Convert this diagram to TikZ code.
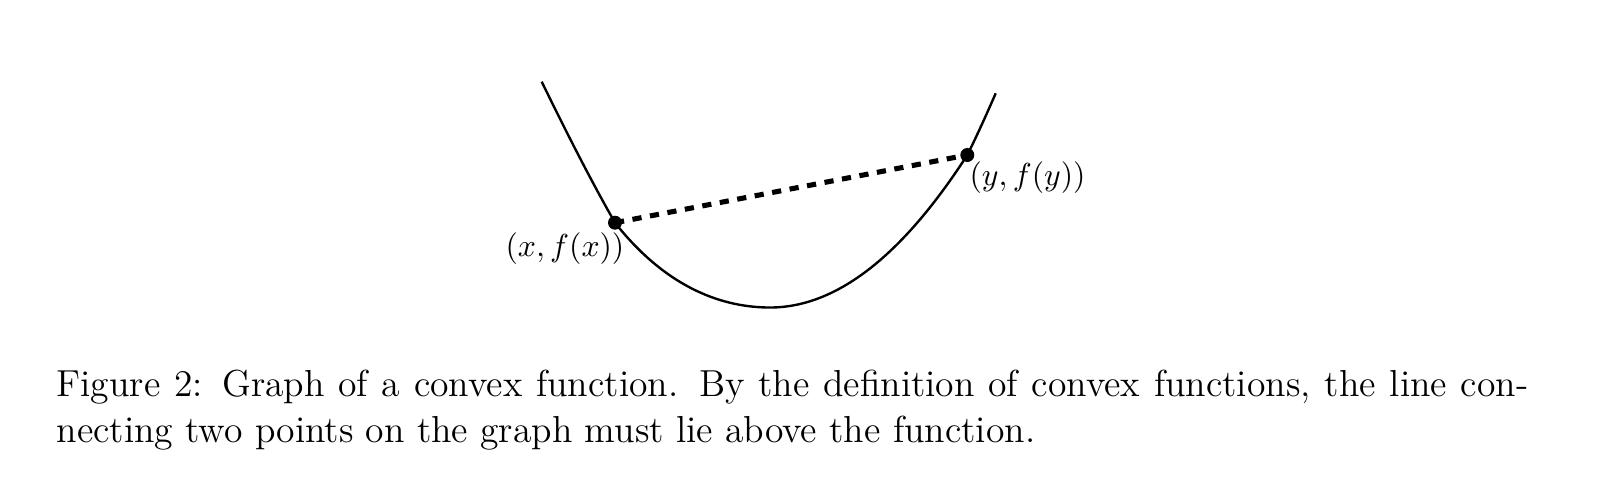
\documentclass[tikz,border=0pt]{standalone}
\usetikzlibrary{calc}
\tikzset{
  curve/.style={line width=0.75pt, black},
  chord/.style={line width=1.6pt, dash pattern=on 2.9pt off 2.7pt},
  dot/.style={circle, fill=black, inner sep=0pt, minimum size=4.4pt},
  lbl/.style={inner sep=0pt, font=\fontsize{10}{12}\selectfont},
  captxt/.style={inner sep=0pt, font=\fontsize{11.85}{14.3}\selectfont}
}
\begin{document}
\begin{tikzpicture}[x=0.315pt, y=-0.315pt]
\useasboundingbox (0,0) rectangle (1602,488);
\coordinate (t1) at (541.7,81.7);
\coordinate (px) at (615,222.7);
\coordinate (m) at (770,307.5);
\coordinate (py) at (967.3,155);
\coordinate (t2) at (995.7,93.3);
\draw[curve] (t1) .. controls (566.1,131.7) and (590.6,180) .. (px)
  .. controls (668,290) and (725,307.5) .. (m)
  .. controls (835.9,307.5) and (901.7,256.7) .. (py)
  .. controls (976.8,136) and (986.2,115.1) .. (t2);
\draw[chord] (px) -- (py);
\node[dot] (dx) at (px) {};
\node[dot] (dy) at (py) {};
\node[lbl, anchor=base east] (lx) at (625,256) {$(x,f(x))$};
\node[lbl, anchor=base west] (ly) at (969,185) {$(y,f(y))$};
\node[captxt, anchor=base west] (cap1) at (56,396) {\makebox[463.6pt][s]{Figure 2: Graph of a convex function. By the definition of convex functions, the line con-}};
\node[captxt, anchor=base west] (cap2) at (56,442) {necting two points on the graph must lie above the function.};
\end{tikzpicture}
\end{document}
